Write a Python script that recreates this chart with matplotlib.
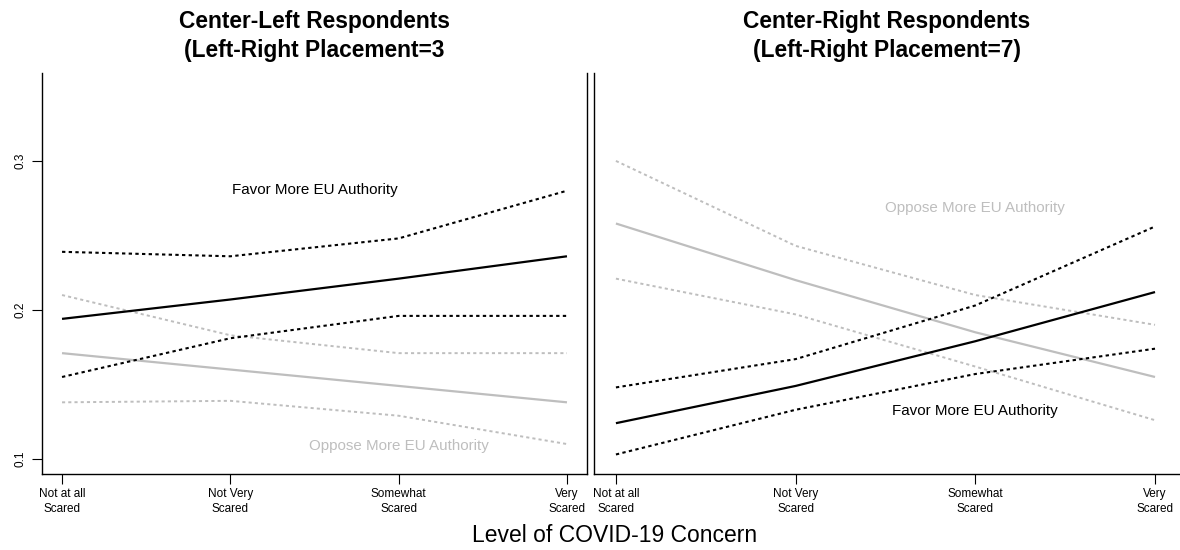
import matplotlib
matplotlib.use("Agg")
import matplotlib.pyplot as plt

plt.rcParams['font.family'] = ['Liberation Sans', 'DejaVu Sans']

concern_levels = [1, 2, 3, 4]
concern_labels = ["Not at all\nScared", "Not Very\nScared", "Somewhat\nScared", "Very\nScared"]
y_ticks = [0.1, 0.2, 0.3]

# Center-left respondents (placement = 3)
left_favor = [0.194, 0.207, 0.221, 0.236]
left_favor_hi = [0.239, 0.236, 0.248, 0.280]
left_favor_lo = [0.155, 0.181, 0.196, 0.196]
left_oppose = [0.171, 0.160, 0.149, 0.138]
left_oppose_hi = [0.210, 0.183, 0.171, 0.171]
left_oppose_lo = [0.138, 0.139, 0.129, 0.110]

# Center-right respondents (placement = 7)
right_favor = [0.124, 0.149, 0.179, 0.212]
right_favor_hi = [0.148, 0.167, 0.203, 0.256]
right_favor_lo = [0.103, 0.133, 0.157, 0.174]
right_oppose = [0.258, 0.220, 0.185, 0.155]
right_oppose_hi = [0.300, 0.243, 0.210, 0.190]
right_oppose_lo = [0.221, 0.197, 0.162, 0.126]

GRAY = "#bebebe"
W, H = 1180, 550
fig = plt.figure(figsize=(W / 100, H / 100), dpi=100)

ax1 = fig.add_axes([42 / W, 76 / H, 545 / W, 401 / H])
ax2 = fig.add_axes([594 / W, 76 / H, 586 / W, 401 / H])


def draw_panel(ax, favor, favor_hi, favor_lo, oppose, oppose_hi, oppose_lo, title):
    dots = (0, (1.6, 1.6))
    ax.plot(concern_levels, oppose, color=GRAY, lw=1.6, solid_capstyle='butt')
    ax.plot(concern_levels, oppose_hi, color=GRAY, lw=1.4, linestyle=dots)
    ax.plot(concern_levels, oppose_lo, color=GRAY, lw=1.4, linestyle=dots)
    ax.plot(concern_levels, favor, color='black', lw=1.6, solid_capstyle='butt')
    ax.plot(concern_levels, favor_hi, color='black', lw=1.5, linestyle=dots)
    ax.plot(concern_levels, favor_lo, color='black', lw=1.5, linestyle=dots)
    ax.set_ylim(0.0899, 0.359)
    ax.set_xticks(concern_levels)
    ax.set_xticklabels(concern_labels, fontsize=8.5, linespacing=1.35)
    ax.tick_params(axis='x', length=7, width=0.8, pad=3)
    ax.spines['top'].set_visible(False)
    for s in ax.spines.values():
        s.set_linewidth(1.0)
    ax.text(0.5, 1.0 + (73 - 36) / 401, title, transform=ax.transAxes,
            ha='center', va='center', fontsize=16.4, fontweight='bold',
            linespacing=1.28)


draw_panel(ax1, left_favor, left_favor_hi, left_favor_lo,
           left_oppose, left_oppose_hi, left_oppose_lo,
           "Center-Left Respondents\n(Left-Right Placement=3")
ax1.set_xlim(0.881, 4.119)
ax1.set_yticks(y_ticks)
ax1.set_yticklabels(["0.1", "0.2", "0.3"], rotation=90, va='center', fontsize=8.5)
ax1.tick_params(axis='y', length=7, width=0.8, pad=4)
ax1.text(2.5, 0.2805, "Favor More EU Authority", ha='center', va='center',
         fontsize=10.9, color='black')
ax1.text(3.0, 0.1085, "Oppose More EU Authority", ha='center', va='center',
         fontsize=10.9, color=GRAY)

draw_panel(ax2, right_favor, right_favor_hi, right_favor_lo,
           right_oppose, right_oppose_hi, right_oppose_lo,
           "Center-Right Respondents\n(Left-Right Placement=7)")
ax2.set_xlim(0.878, 4.139)
ax2.set_yticks([])
ax2.spines['right'].set_visible(False)
ax2.text(3.0, 0.2685, "Oppose More EU Authority", ha='center', va='center',
         fontsize=10.9, color=GRAY)
ax2.text(3.0, 0.132, "Favor More EU Authority", ha='center', va='center',
         fontsize=10.9, color='black')

fig.text(615 / W, 1 - 535 / H, "Level of COVID-19 Concern", ha='center',
         va='center', fontsize=16.5)

fig.savefig("out.png", dpi=100)
